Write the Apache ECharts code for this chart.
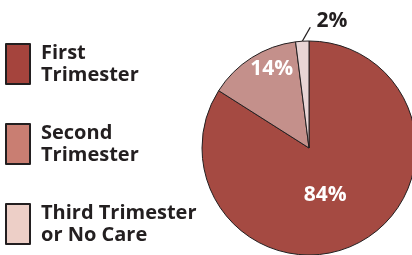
<!DOCTYPE html>
<html>
<head>
<meta charset="utf-8">
<script src="https://cdn.jsdelivr.net/npm/echarts@6/dist/echarts.min.js"></script>
<style>
  html, body { margin: 0; padding: 0; background: #fff; }
  #chart { width: 412px; height: 255px; }
</style>
</head>
<body>
<div id="chart"></div>
<script>
// 数据
const categories = ['First\nTrimester', 'Second\nTrimester', 'Third Trimester\nor No Care'];
const values = [84, 14, 2];
const pieColors = ['#A54A42', '#C4908B', '#E8D5D5'];
const legendColors = ['#A5443D', '#C97E72', '#EDCFC7'];

const chart = echarts.init(document.getElementById('chart'));
const center = [309, 148];

chart.setOption({
  animation: false,
  legend: {
    orient: 'vertical',
    left: 0,
    top: 37,
    itemWidth: 24,
    itemHeight: 40,
    itemGap: 36,
    icon: 'rect',
    selectedMode: false,
    textStyle: {
      fontFamily: 'Open Sans',
      fontWeight: 'bold',
      fontSize: 20,
      lineHeight: 22,
      color: '#231F20',
      padding: [0, 0, 0, 6]
    },
    data: categories.map((c, i) => ({ name: c, itemStyle: { color: legendColors[i] } }))
  },
  series: [{
    type: 'pie',
    center: center,
    radius: 107,
    startAngle: 90,
    clockwise: true,
    silent: true,
    itemStyle: { borderColor: '#231F20', borderWidth: 1 },
    label: {
      fontFamily: 'Open Sans',
      fontWeight: 'bold',
      fontSize: 21,
      formatter: '{c}%'
    },
    // 2% 的标签挪到右上方，引线从扇区边缘斜着往右上连
    labelLayout: function (params) {
      if (params.dataIndex !== 2) return;
      const p0 = params.labelLinePoints[0];
      const end = [p0[0] + 8, p0[1] - 14];
      return { dx: 55, dy: -8, labelLinePoints: [p0, end, end] };
    },
    data: values.map((v, i) => {
      const item = { name: categories[i], value: v, itemStyle: { color: pieColors[i] } };
      if (i === 0) {
        item.label = { position: 'inside', color: '#fff', offset: [-11, -2] };
      } else if (i === 1) {
        item.label = { position: 'inside', color: '#fff', offset: [-7, -31] };
      } else {
        item.label = { position: 'outside', color: '#231F20' };
        item.labelLine = { show: true, length: 12, length2: 4, lineStyle: { color: '#231F20', width: 1.3 } };
      }
      return item;
    })
  }]
});
</script>
</body>
</html>
